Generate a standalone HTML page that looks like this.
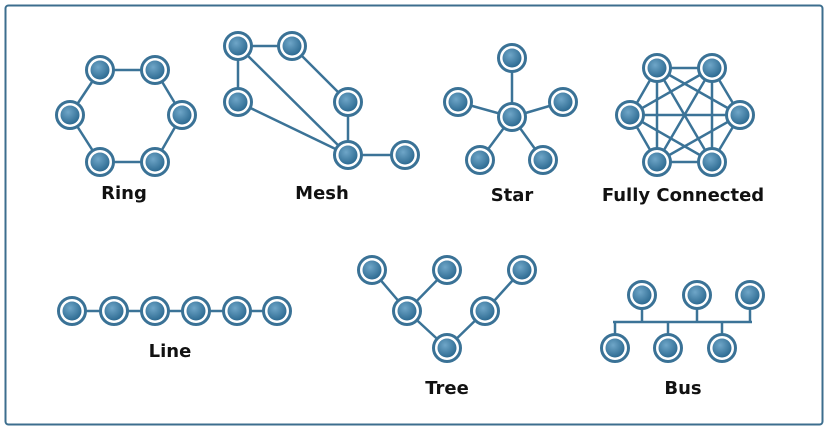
<!DOCTYPE html>
<html><head><meta charset="utf-8"><style>
html,body{margin:0;padding:0;background:#fff;width:829px;height:431px;overflow:hidden}
svg{display:block}
text{font-family:"DejaVu Sans","Liberation Sans",sans-serif;font-weight:bold;font-size:18px;fill:#111;text-anchor:middle}
</style></head><body>
<svg id="c" width="829" height="431" viewBox="0 0 829 431">
<defs><radialGradient id="g" cx="40%" cy="35%" r="65%"><stop offset="0" stop-color="#6fa6c8"/><stop offset="1" stop-color="#2f6c93"/></radialGradient></defs>
<rect x="5.5" y="5.5" width="817" height="419" rx="3" fill="#fff" stroke="#3c6e8e" stroke-width="2"/>
</svg>
<script>
const topoNames=['ring','mesh','star','fully-connected','line','tree','bus'];
const topoLabels=['Ring','Mesh','Star','Fully Connected','Line','Tree','Bus'];
const labelPos=[[124,199],[322,199],[512,201],[683,201],[170,357],[447,394],[683,394]];
const nodes=[
 [[100,70],[155,70],[182,115],[155,162],[100,162],[70,115]],
 [[238,46],[292,46],[238,102],[348,102],[348,155],[405,155]],
 [[512,117],[512,58],[458,102],[563,102],[480,160],[543,160]],
 [[657,68],[712,68],[740,115],[712,162],[657,162],[630,115]],
 [[72,311],[114,311],[155,311],[196,311],[237,311],[277,311]],
 [[372,270],[447,270],[522,270],[407,311],[485,311],[447,348]],
 [[642,295],[697,295],[750,295],[615,348],[668,348],[722,348]]
];
const edges=[
 [[0,1],[1,2],[2,3],[3,4],[4,5],[5,0]],
 [[0,1],[0,2],[0,4],[1,3],[2,4],[3,4],[4,5]],
 [[0,1],[0,2],[0,3],[0,4],[0,5]],
 [[0,1],[0,2],[0,3],[0,4],[0,5],[1,2],[1,3],[1,4],[1,5],[2,3],[2,4],[2,5],[3,4],[3,5],[4,5]],
 [[0,1],[1,2],[2,3],[3,4],[4,5]],
 [[0,3],[1,3],[3,5],[2,4],[4,5]],
 []
];
const busY=322;
const svg=document.getElementById('c');
const NS='http://www.w3.org/2000/svg';
function mk(t,a){const e=document.createElementNS(NS,t);for(const k in a)e.setAttribute(k,a[k]);svg.appendChild(e);return e;}
const LC='#3b7397';
nodes.forEach((ns,ti)=>{
 edges[ti].forEach(([a,b])=>{
  const l=mk('line',{x1:ns[a][0],y1:ns[a][1],x2:ns[b][0],y2:ns[b][1],stroke:LC,'stroke-width':2.5});
  
  
 });
 if(topoNames[ti]==='bus'){
  const xs=ns.map(n=>n[0]);
  const b=mk('line',{x1:Math.min(...xs)-2,y1:busY,x2:Math.max(...xs)+2,y2:busY,stroke:LC,'stroke-width':2.5});
  
  
  ns.forEach(n=>{
   const v=mk('line',{x1:n[0],y1:n[1],x2:n[0],y2:busY,stroke:LC,'stroke-width':2.5});
   
   
  });
 }
});
nodes.forEach((ns,ti)=>{
 ns.forEach(n=>{
  const g=mk('g',{});
  
  
  const o=document.createElementNS(NS,'circle');
  o.setAttribute('cx',n[0]);o.setAttribute('cy',n[1]);o.setAttribute('r',13.5);
  o.setAttribute('fill','#fff');o.setAttribute('stroke','#3a7296');o.setAttribute('stroke-width',3);
  g.appendChild(o);
  const i=document.createElementNS(NS,'circle');
  i.setAttribute('cx',n[0]);i.setAttribute('cy',n[1]);i.setAttribute('r',9.5);
  i.setAttribute('fill','url(#g)');
  g.appendChild(i);
 });
 const t=mk('text',{x:labelPos[ti][0],y:labelPos[ti][1]});
 t.textContent=topoLabels[ti];
 
 
});
</script>
</body></html>
